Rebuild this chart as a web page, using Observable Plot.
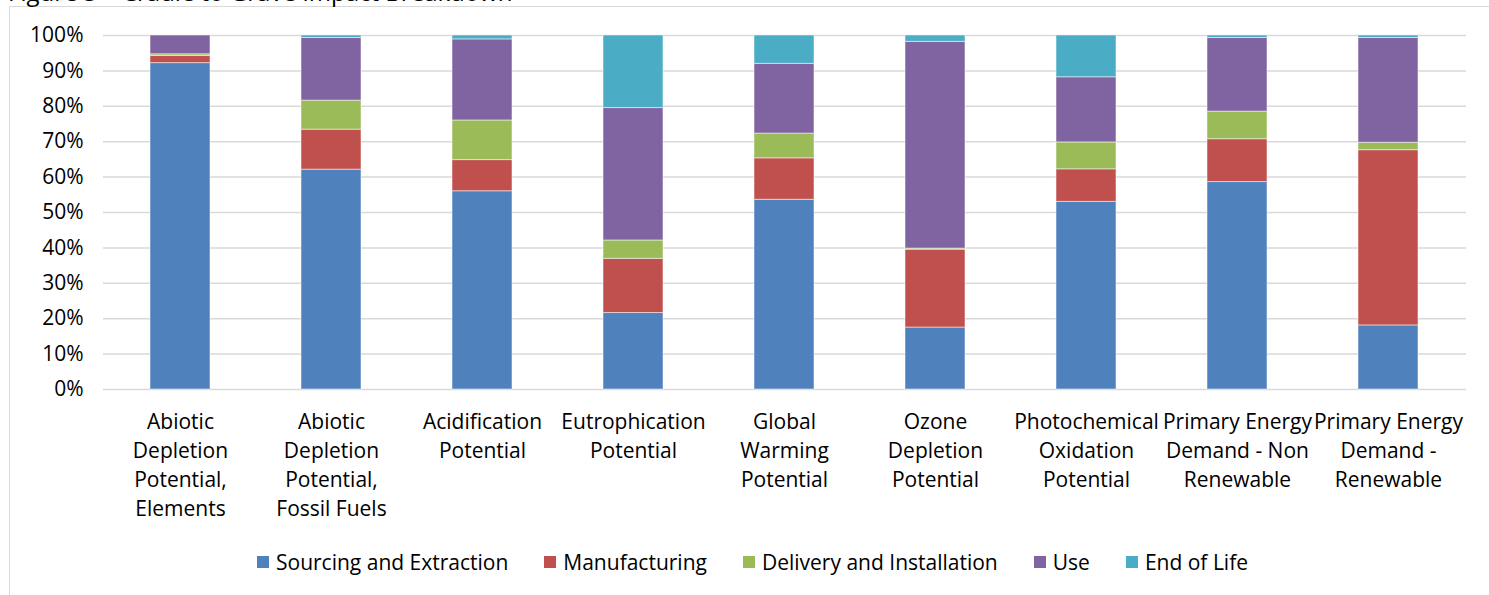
<!DOCTYPE html>
<html>
<head>
<meta charset="utf-8">
<script src="https://cdn.jsdelivr.net/npm/d3@7"></script>
<script src="https://cdn.jsdelivr.net/npm/@observablehq/plot@0.6"></script>
<style>
  html, body { margin: 0; padding: 0; background: #fff; overflow: hidden; }
  #wrap { position: relative; width: 1489px; height: 595px; font-family: "Open Sans", sans-serif; color: #000; }
  #frame { position: absolute; left: 9px; top: 6px; width: 1520px; height: 620px; border: 1px solid #d9d9d9; box-sizing: border-box; }
  #title { position: absolute; left: 8px; top: -20px; font-size: 24px; line-height: 24px; white-space: nowrap; }
  #chart { position: absolute; left: 0; top: 0; }
  #legend { position: absolute; left: 18px; width: 1469px; top: 547px; display: flex; justify-content: center; font-size: 21px; line-height: 30px; }
  .item { display: flex; align-items: center; margin: 0 18px; }
  .sw { width: 12px; height: 12px; margin-right: 7px; }
</style>
</head>
<body>
<div id="wrap">
  <div id="frame"></div>
  <div id="title">Figure 3 – Cradle to Grave Impact Breakdown</div>
  <div id="chart"></div>
  <div id="legend"></div>
</div>
<script>
const categories = [
  "Abiotic Depletion Potential, Elements",
  "Abiotic Depletion Potential, Fossil Fuels",
  "Acidification Potential",
  "Eutrophication Potential",
  "Global Warming Potential",
  "Ozone Depletion Potential",
  "Photochemical Oxidation Potential",
  "Primary Energy Demand - Non Renewable",
  "Primary Energy Demand - Renewable"
];
const tickLabels = [
  "Abiotic\nDepletion\nPotential,\nElements",
  "Abiotic\nDepletion\nPotential,\nFossil Fuels",
  "Acidification\nPotential",
  "Eutrophication\nPotential",
  "Global\nWarming\nPotential",
  "Ozone\nDepletion\nPotential",
  "Photochemical\nOxidation\nPotential",
  "Primary Energy\nDemand - Non\nRenewable",
  "Primary Energy\nDemand -\nRenewable"
];
const seriesNames = ["Sourcing and Extraction", "Manufacturing", "Delivery and Installation", "Use", "End of Life"];
const seriesColors = ["#4F81BD", "#C0504D", "#9BBB59", "#8064A2", "#4BACC6"];

const sourcing      = [92.2, 62.1, 56.0, 21.6, 53.6, 17.5, 53.0, 58.6, 18.1];
const manufacturing = [ 2.0, 11.3,  8.8, 15.3, 11.7, 22.0,  9.2, 12.1, 49.5];
const delivery      = [ 0.5,  8.2, 11.2,  5.2,  7.0,  0.3,  7.6,  7.8,  2.1];
const use           = [ 5.3, 17.7, 22.9, 37.4, 19.7, 58.4, 18.4, 20.8, 29.6];
const endOfLife     = [ 0.0,  0.7,  1.1, 20.5,  8.0,  1.8, 11.8,  0.7,  0.7];
const yTicks = [0, 10, 20, 30, 40, 50, 60, 70, 80, 90, 100];

const seriesValues = [sourcing, manufacturing, delivery, use, endOfLife];
const data = [];
seriesNames.forEach((s, si) => {
  categories.forEach((c, ci) => {
    data.push({category: c, series: s, value: seriesValues[si][ci]});
  });
});
const labelOf = new Map(categories.map((c, i) => [c, tickLabels[i]]));

const chart = Plot.plot({
  width: 1489,
  height: 530,
  marginTop: 35,
  marginBottom: 141,
  marginLeft: 103,
  marginRight: 23,
  style: {fontFamily: "Open Sans, sans-serif", fontSize: "21px", color: "#000", background: "transparent"},
  x: {domain: categories, paddingInner: 0.6, paddingOuter: 0.3, label: null},
  y: {domain: [0, 100], label: null},
  color: {domain: seriesNames, range: seriesColors},
  marks: [
    Plot.ruleY(yTicks, {stroke: "#D9D9D9", strokeWidth: 1.5}),
    Plot.barY(data, Plot.stackY({x: "category", y: "value", fill: "series", stroke: "#ffffff", strokeOpacity: 0.5, strokeWidth: 1})),
    Plot.axisX({tickSize: 0, tickPadding: 19, fontSize: 21, lineHeight: 1.38, tickFormat: d => labelOf.get(d), label: null}),
    Plot.axisY({ticks: yTicks, tickSize: 0, tickPadding: 20, fontSize: 21, tickFormat: d => d + "%", label: null})
  ]
});
document.getElementById("chart").appendChild(chart);

const legend = document.getElementById("legend");
seriesNames.forEach((s, i) => {
  const item = document.createElement("div");
  item.className = "item";
  const sw = document.createElement("div");
  sw.className = "sw";
  sw.style.background = seriesColors[i];
  const t = document.createElement("span");
  t.textContent = s;
  item.appendChild(sw);
  item.appendChild(t);
  legend.appendChild(item);
});
</script>
</body>
</html>
